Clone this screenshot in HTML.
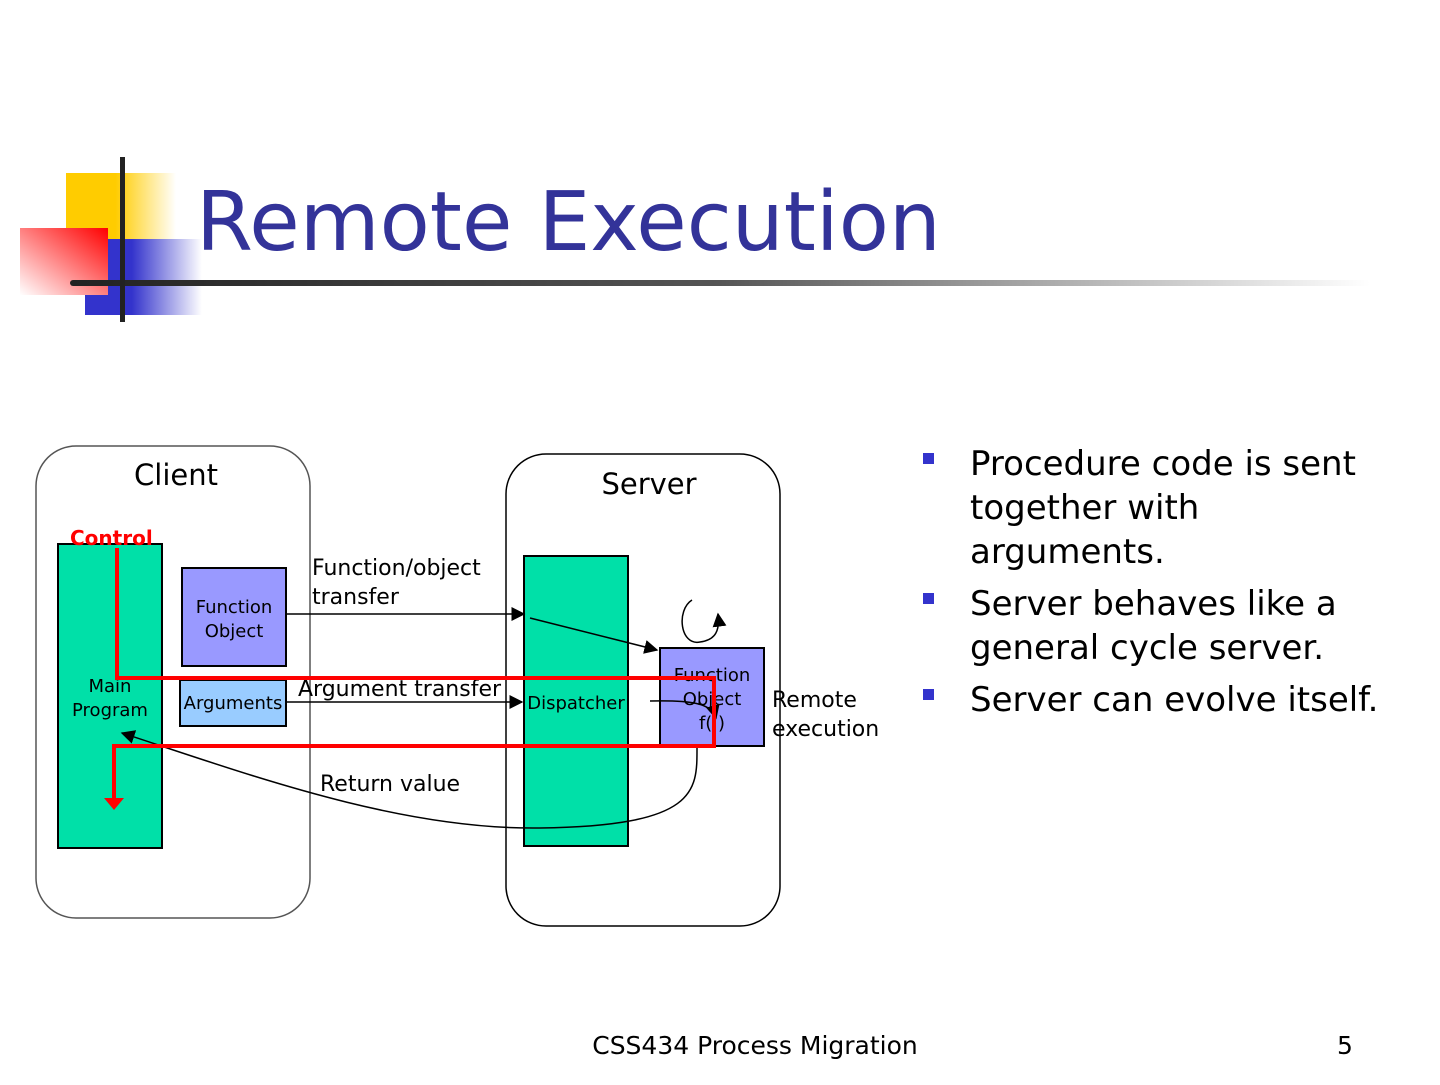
<!DOCTYPE html>
<html><head><meta charset="utf-8"><style>
body{margin:0;background:#fff;}
svg text{font-family:"DejaVu Sans","Liberation Sans",sans-serif;}
</style></head><body>
<svg width="1440" height="1080" viewBox="0 0 1440 1080" xmlns="http://www.w3.org/2000/svg">
<defs>
<linearGradient id="gy" x1="0" x2="1"><stop offset="0.45" stop-color="#ffcc00"/><stop offset="1" stop-color="#fff"/></linearGradient>
<linearGradient id="gb" x1="0" x2="1"><stop offset="0.4" stop-color="#3333cc"/><stop offset="1" stop-color="#fff"/></linearGradient>
<linearGradient id="gr" x1="1" y1="0" x2="0" y2="1"><stop offset="0" stop-color="#ff0000"/><stop offset="1" stop-color="#fff"/></linearGradient>
<linearGradient id="gl" x1="0" x2="1"><stop offset="0" stop-color="#222"/><stop offset="0.5" stop-color="#555"/><stop offset="1" stop-color="#fff"/></linearGradient>
<marker id="ah" viewBox="0 0 10 10" refX="9" refY="5" markerWidth="9" markerHeight="9" orient="auto" markerUnits="userSpaceOnUse"><path d="M0,0L10,5L0,10z" fill="#000"/></marker>
<marker id="ahb" viewBox="0 0 10 10" refX="9" refY="5" markerWidth="14" markerHeight="14" orient="auto" markerUnits="userSpaceOnUse"><path d="M0,0L10,5L0,10z" fill="#000"/></marker>
</defs>
<rect x="66" y="173" width="110" height="67" fill="url(#gy)"/>
<rect x="85" y="239" width="117" height="76" fill="url(#gb)"/>
<rect x="20" y="228" width="88" height="67" fill="url(#gr)"/>
<rect x="70" y="280" width="1300" height="6" fill="url(#gl)" rx="3"/>
<rect x="120" y="157" width="5" height="165" fill="#222"/>
<text x="196" y="250" font-size="82" fill="#333399">Remote Execution</text>

<rect x="36" y="446" width="274" height="472" rx="40" fill="#fff" stroke="#555" stroke-width="1.5"/>
<rect x="506" y="454" width="274" height="472" rx="40" fill="#fff" stroke="#000" stroke-width="1.5"/>
<text x="176" y="485" font-size="29" text-anchor="middle">Client</text>
<text x="649" y="494" font-size="29" text-anchor="middle">Server</text>

<rect x="58" y="544" width="104" height="304" fill="#00e0a8" stroke="#000" stroke-width="2"/>
<rect x="524" y="556" width="104" height="290" fill="#00e0a8" stroke="#000" stroke-width="2"/>
<rect x="182" y="568" width="104" height="98" fill="#9999ff" stroke="#000" stroke-width="2"/>
<rect x="180" y="680" width="106" height="46" fill="#99ccff" stroke="#000" stroke-width="2"/>
<rect x="660" y="648" width="104" height="98" fill="#9999ff" stroke="#000" stroke-width="2"/>

<text x="234" y="613" font-size="18" text-anchor="middle">Function</text>
<text x="234" y="637" font-size="18" text-anchor="middle">Object</text>
<text x="233" y="709" font-size="18" text-anchor="middle">Arguments</text>
<text x="110" y="692" font-size="18" text-anchor="middle">Main</text>
<text x="110" y="716" font-size="18" text-anchor="middle">Program</text>
<text x="576" y="709" font-size="18" text-anchor="middle">Dispatcher</text>
<text x="712" y="681" font-size="18" text-anchor="middle">Function</text>
<text x="712" y="705" font-size="18" text-anchor="middle">Object</text>
<text x="712" y="729" font-size="18" text-anchor="middle">f(    )</text>
<text x="312" y="575" font-size="22">Function/object</text>
<text x="312" y="604" font-size="22">transfer</text>
<text x="298" y="696" font-size="22">Argument transfer</text>
<text x="320" y="791" font-size="22">Return value</text>
<text x="772" y="707" font-size="22">Remote</text>
<text x="772" y="736" font-size="22">execution</text>
<text x="70" y="545" font-size="20" font-weight="bold" fill="#ff0000">Control</text>

<line x1="286" y1="614" x2="524" y2="614" stroke="#000" stroke-width="1.5" marker-end="url(#ahb)"/>
<line x1="286" y1="702" x2="522" y2="702" stroke="#000" stroke-width="1.5" marker-end="url(#ahb)"/>
<line x1="530" y1="618" x2="657" y2="650" stroke="#000" stroke-width="1.5" marker-end="url(#ahb)"/>
<path d="M650,701 C690,700 712,703 716,718" fill="none" stroke="#000" stroke-width="1.5" marker-end="url(#ahb)"/>
<path d="M692,600 C676,610 680,646 700,642 C716,640 720,630 718,614" fill="none" stroke="#000" stroke-width="1.5" marker-end="url(#ahb)"/>
<path d="M697,746 C697,790 700,826 540,828 C400,830 250,775 122,733" fill="none" stroke="#000" stroke-width="1.5" marker-end="url(#ahb)"/>

<path d="M117,548 V678 H714 V746 H114 V800" fill="none" stroke="#ff0000" stroke-width="4"/>
<path d="M104,798 L124,798 L114,810z" fill="#ff0000"/>

<rect x="923" y="453" width="11" height="11" fill="#3333cc"/>
<rect x="923" y="593" width="11" height="11" fill="#3333cc"/>
<rect x="923" y="689" width="11" height="11" fill="#3333cc"/>
<g font-size="34" fill="#000">
<text x="970" y="475">Procedure code is sent</text>
<text x="970" y="519">together with</text>
<text x="970" y="563">arguments.</text>
<text x="970" y="615">Server behaves like a</text>
<text x="970" y="659">general cycle server.</text>
<text x="970" y="711">Server can evolve itself.</text>
</g>
<text x="755" y="1054" font-size="25" text-anchor="middle">CSS434 Process Migration</text>
<text x="1345" y="1054" font-size="25" text-anchor="middle">5</text>
</svg>
</body></html>
